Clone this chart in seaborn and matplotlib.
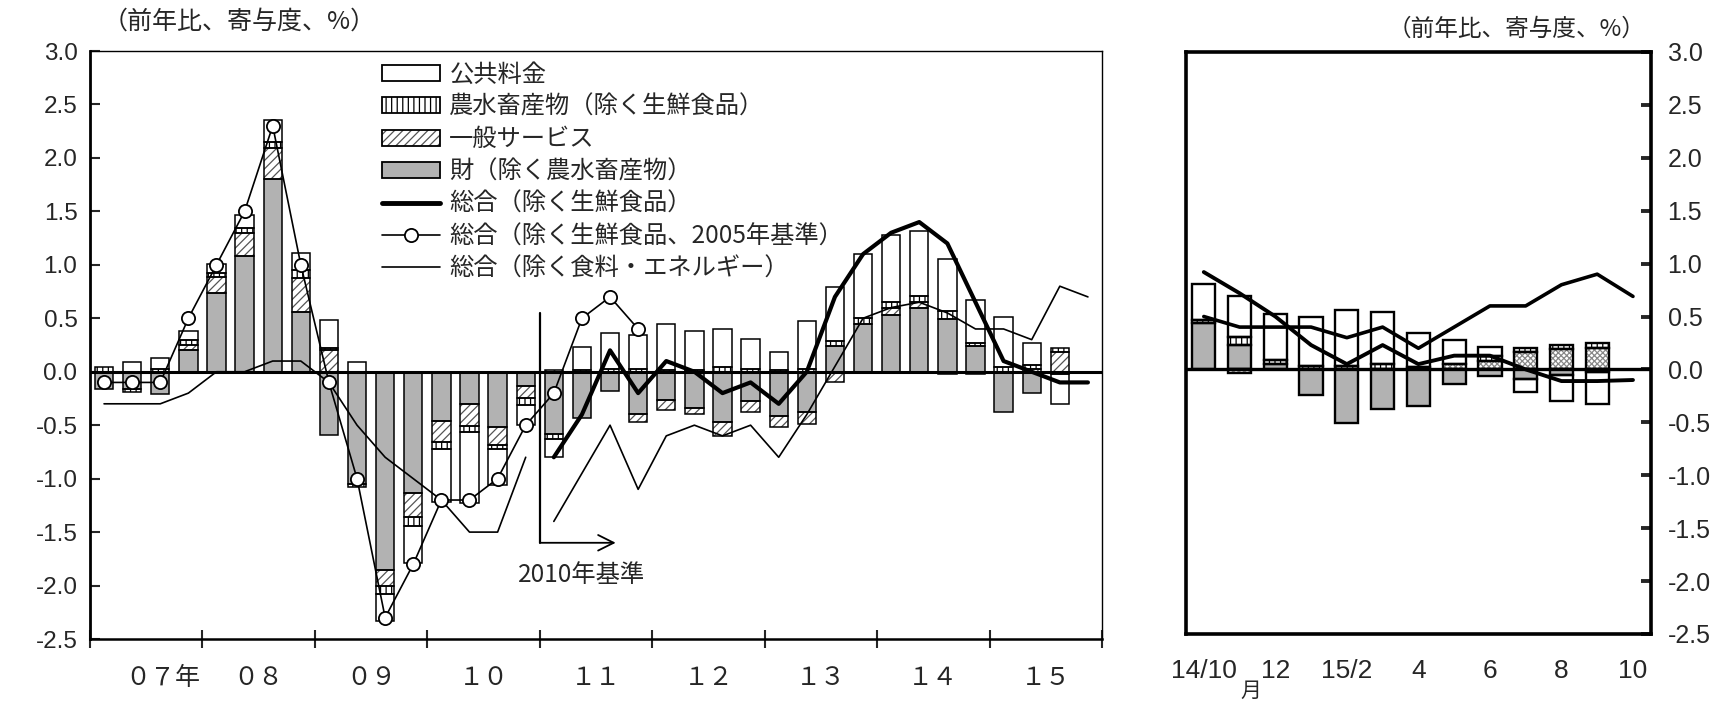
import numpy as np
import pandas as pd
import seaborn as sns
import matplotlib
matplotlib.use('Agg')
import matplotlib.pyplot as plt
import matplotlib.transforms as mtransforms
from matplotlib.patches import Patch
from matplotlib.lines import Line2D

# ---- quarterly panel (07Q1 ... 15Q4) ----
year_labels = ['０７年', '０８', '０９', '１０', '１１', '１２', '１３', '１４', '１５']
# bars: 07Q1 .. 15Q3
goods_q = [-0.16, -0.16, -0.21, 0.20, 0.74, 1.08, 1.80, 0.56,
           -0.59, -1.05, -1.85, -1.13, -0.46, -0.30, -0.52, -0.13,
           -0.58, -0.43, -0.18, -0.40, -0.26, -0.34, -0.47, -0.27,
           -0.41, -0.38, 0.24, 0.45, 0.53, 0.60, 0.49, 0.24,
           -0.38, -0.20, -0.02]
service_q = [0.0, 0.0, 0.0, 0.05, 0.15, 0.22, 0.29, 0.32,
             0.20, 0.0, -0.155, -0.23, -0.20, -0.21, -0.17, -0.12,
             0.02, 0.0, 0.0, -0.07, -0.10, -0.06, -0.13, -0.11,
             -0.11, -0.11, -0.10, 0.0, 0.07, 0.05, -0.02, -0.02,
             0.0, 0.03, 0.18]
agri_q = [0.04, -0.03, 0.03, 0.05, 0.03, 0.04, 0.06, 0.07,
          0.025, -0.03, -0.07, -0.085, -0.06, -0.05, -0.03, -0.06,
          -0.05, 0.02, 0.03, 0.03, 0.02, 0.02, 0.04, 0.03,
          0.02, 0.03, 0.05, 0.05, 0.05, 0.06, 0.08, 0.03,
          0.04, 0.03, 0.04]
public_q = [0.0, 0.09, 0.10, 0.08, 0.09, 0.13, 0.20, 0.16,
            0.26, 0.09, -0.255, -0.34, -0.50, -0.67, -0.34, -0.19,
            -0.17, 0.21, 0.33, 0.31, 0.43, 0.36, 0.36, 0.28,
            0.16, 0.44, 0.50, 0.60, 0.63, 0.61, 0.48, 0.40,
            0.47, 0.21, -0.28]
# 総合(除く生鮮食品、2005年基準): 07Q1 .. 11Q4
core05 = [-0.1, -0.1, -0.1, 0.5, 1.0, 1.5, 2.3, 1.0,
          -0.1, -1.0, -2.3, -1.8, -1.2, -1.2, -1.0, -0.5,
          -0.2, 0.5, 0.7, 0.4]
# 総合(除く生鮮食品): 11Q1 .. 15Q4
core10 = [-0.8, -0.4, 0.2, -0.2, 0.1, 0.0, -0.2, -0.1,
          -0.3, 0.0, 0.7, 1.1, 1.3, 1.4, 1.2, 0.65,
          0.1, 0.0, -0.1, -0.1]
# 総合(除く食料・エネルギー): 07Q1 .. 10Q4 and 11Q1 .. 15Q4
corecore05 = [-0.3, -0.3, -0.3, -0.2, 0.0, 0.0, 0.1, 0.1,
              -0.1, -0.5, -0.8, -1.0, -1.2, -1.5, -1.5, -0.8]
corecore10 = [-1.4, -0.95, -0.5, -1.1, -0.6, -0.5, -0.6, -0.5,
              -0.8, -0.4, 0.05, 0.5, 0.6, 0.65, 0.55, 0.4,
              0.4, 0.3, 0.8, 0.7]

# ---- monthly panel (14/10 ... 15/10) ----
month_labels = ['14/10', '12', '15/2', '4', '6', '8', '10']
goods_m = [0.44, 0.23, 0.05, -0.24, -0.51, -0.37, -0.35, -0.14, -0.06, -0.09, -0.05, -0.02]
service_m = [0.0, -0.03, 0.0, 0.0, 0.0, 0.0, 0.0, 0.05, 0.08, 0.16, 0.19, 0.20]
agri_m = [0.03, 0.08, 0.04, 0.03, 0.03, 0.05, 0.02, 0.0, 0.05, 0.04, 0.04, 0.05]
public_m = [0.34, 0.38, 0.43, 0.47, 0.53, 0.49, 0.32, 0.23, 0.08, -0.12, -0.25, -0.31]
core_m = [0.92, 0.72, 0.5, 0.23, 0.05, 0.23, 0.05, 0.13, 0.13, 0.0, -0.11, -0.11, -0.1]
corecore_m = [0.5, 0.4, 0.4, 0.4, 0.3, 0.4, 0.2, 0.4, 0.6, 0.6, 0.8, 0.9, 0.69]

legend_labels = ['公共料金', '農水畜産物（除く生鮮食品）', '一般サービス', '財（除く農水畜産物）',
                 '総合（除く生鮮食品）', '総合（除く生鮮食品、2005年基準）', '総合（除く食料・エネルギー）']

sns.set_theme(style='white')
plt.rcParams['font.family'] = ['Liberation Sans', 'Noto Sans CJK JP', 'DejaVu Sans']
plt.rcParams['axes.unicode_minus'] = False
plt.rcParams['hatch.linewidth'] = 0.9
JP = ['Noto Sans CJK JP', 'DejaVu Sans']
NARROW = ['Liberation Sans Narrow', 'Liberation Sans']

GRAY = '#b2b2b2'


def stacked(ax, x, comps, styles, width, elw):
    x = np.asarray(x, float)
    pos = np.zeros(len(x))
    neg = np.zeros(len(x))
    for vals, st in zip(comps, styles):
        vals = np.asarray(vals, float)
        bottom = np.where(vals >= 0, pos, neg)
        m = vals != 0
        ax.bar(x[m], vals[m], width, bottom=bottom[m], color=st['fc'],
               hatch=st['hatch'], edgecolor=st['hc'], linewidth=0, zorder=2)
        ax.bar(x[m], vals[m], width, bottom=bottom[m], facecolor='none',
               edgecolor='black', linewidth=elw, zorder=3)
        pos = pos + np.where(vals > 0, vals, 0)
        neg = neg + np.where(vals < 0, vals, 0)


fig = plt.figure(figsize=(17.29, 7.02), dpi=100)
ax = fig.add_axes([0.05205, 0.08974, 0.5853, 0.8376])
ax2 = fig.add_axes([0.6859, 0.0969, 0.2689, 0.8291])

styles_q = [dict(fc=GRAY, hatch=None, hc='black'),
            dict(fc='white', hatch='////', hc='#555555'),
            dict(fc='white', hatch='|||', hc='black'),
            dict(fc='white', hatch=None, hc='black')]
styles_m = [dict(fc=GRAY, hatch=None, hc='black'),
            dict(fc='white', hatch='xxxxxx', hc='#888888'),
            dict(fc='white', hatch='|||', hc='black'),
            dict(fc='white', hatch=None, hc='black')]

# ---------- left panel ----------
xq = np.arange(len(goods_q)) + 0.5
stacked(ax, xq, [goods_q, service_q, agri_q, public_q], styles_q, 0.65, 1.1)
ax.axhline(0, color='black', lw=2.2, zorder=3.5)

df = pd.DataFrame({'x': np.arange(len(core05)) + 0.5, 'y': core05})
sns.lineplot(data=df, x='x', y='y', ax=ax, color='black', lw=1.2, marker='o',
             markersize=9.5, markerfacecolor='white', markeredgecolor='black',
             markeredgewidth=1.3, zorder=6)
df = pd.DataFrame({'x': np.arange(len(corecore05)) + 0.5, 'y': corecore05})
sns.lineplot(data=df, x='x', y='y', ax=ax, color='black', lw=1.2, zorder=5)
df = pd.DataFrame({'x': np.arange(len(corecore10)) + 16.5, 'y': corecore10})
sns.lineplot(data=df, x='x', y='y', ax=ax, color='black', lw=1.2, zorder=5)
df = pd.DataFrame({'x': np.arange(len(core10)) + 16.5, 'y': core10})
sns.lineplot(data=df, x='x', y='y', ax=ax, color='black', lw=3.0, zorder=5)

ax.set_xlim(0, 36)
ax.set_ylim(-2.5, 3.0)
yt = np.arange(-2.5, 3.01, 0.5)
ax.set_yticks(yt)
ax.set_yticklabels([f'{v:.1f}' for v in yt], fontsize=17.5)
ax.tick_params(axis='y', left=True, direction='in', length=7, width=1.5, pad=9)
ax.set_xticks(np.arange(0, 37, 4))
ax.set_xticklabels([])
ax.tick_params(axis='x', bottom=True, direction='inout', length=13, width=1.5)
ax.set_xlabel('')
ax.set_ylabel('')
for s, w in [('left', 2.0), ('bottom', 1.8), ('top', 1.0), ('right', 1.0)]:
    ax.spines[s].set_linewidth(w)
    ax.spines[s].set_color('black')

trans = mtransforms.blended_transform_factory(ax.transData, ax.transAxes)
for k, lab in enumerate(year_labels):
    xc = 4 * k + 2 + (0.6 if k == 0 else 0)
    ax.text(xc, -0.066, lab, transform=trans, ha='center', va='center',
            fontsize=18, family=JP)

# 2010年基準 marker
ax.plot([16, 16], [0.55, -1.6], color='black', lw=1.6, zorder=4)
ax.annotate('', xy=(18.8, -1.6), xytext=(15.95, -1.6),
            arrowprops=dict(arrowstyle='->', color='black', lw=1.3,
                            mutation_scale=28), zorder=4)
ax.text(17.5, -1.9, '2010年基準', ha='center', va='center', fontsize=17.5, family=JP)

handles = [Patch(facecolor='white', edgecolor='black', lw=1.3),
           Patch(facecolor='white', edgecolor='black', hatch='|||', lw=1.3),
           (Patch(facecolor='white', edgecolor='#555555', hatch='////', lw=0),
            Patch(facecolor='none', edgecolor='black', lw=1.3)),
           Patch(facecolor=GRAY, edgecolor='black', lw=1.3),
           Line2D([], [], color='black', lw=3.5),
           Line2D([], [], color='black', lw=1.2, marker='o', markersize=9.5,
                  markerfacecolor='white', markeredgewidth=1.3),
           Line2D([], [], color='black', lw=1.2)]
leg = ax.legend(handles, legend_labels, loc='upper left', bbox_to_anchor=(0.289, 0.982),
                frameon=False, borderpad=0, borderaxespad=0, handlelength=2.35,
                handleheight=0.62, handletextpad=0.4, labelspacing=0.26,
                prop={'family': JP, 'size': 17.5})

# ---------- right panel ----------
xm = np.arange(len(goods_m))
stacked(ax2, xm, [goods_m, service_m, agri_m, public_m], styles_m, 0.65, 1.7)
ax2.axhline(0, color='black', lw=2.4, zorder=3.5)
df = pd.DataFrame({'x': np.arange(len(corecore_m)), 'y': corecore_m})
sns.lineplot(data=df, x='x', y='y', ax=ax2, color='black', lw=2.6, zorder=5)
df = pd.DataFrame({'x': np.arange(len(core_m)), 'y': core_m})
sns.lineplot(data=df, x='x', y='y', ax=ax2, color='black', lw=2.8, zorder=5)

ax2.set_xlim(-0.5, 12.5)
ax2.set_ylim(-2.5, 3.0)
ax2.set_yticks(yt)
ax2.yaxis.tick_right()
ax2.set_yticklabels([f'{v:.1f}' for v in yt], fontsize=18, family=NARROW)
ax2.tick_params(axis='y', left=False, right=True, labelleft=False, labelright=True,
                direction='in', length=7, width=2.8, pad=12)
ax2.set_xticks(np.arange(0, 13, 2))
ax2.set_xticklabels(month_labels, fontsize=19, family=NARROW)
ax2.tick_params(axis='x', bottom=False, length=0, pad=18)
ax2.set_xlabel('')
ax2.set_ylabel('')
for s in ['left', 'bottom', 'top', 'right']:
    ax2.spines[s].set_linewidth(2.6)
    ax2.spines[s].set_color('black')
trans2 = mtransforms.blended_transform_factory(ax2.transData, ax2.transAxes)
ax2.text(1.32, -0.098, '月', transform=trans2, ha='center', va='center',
         fontsize=15, family=JP)

fig.text(103 / 1729, 1 - 22 / 702, '（前年比、寄与度、%）', ha='left', va='center',
         fontsize=18, family=JP)
fig.text(1645 / 1729, 1 - 29 / 702, '（前年比、寄与度、%）', ha='right', va='center',
         fontsize=17, family=JP)

fig.savefig('out.png', dpi=100, facecolor='white')
